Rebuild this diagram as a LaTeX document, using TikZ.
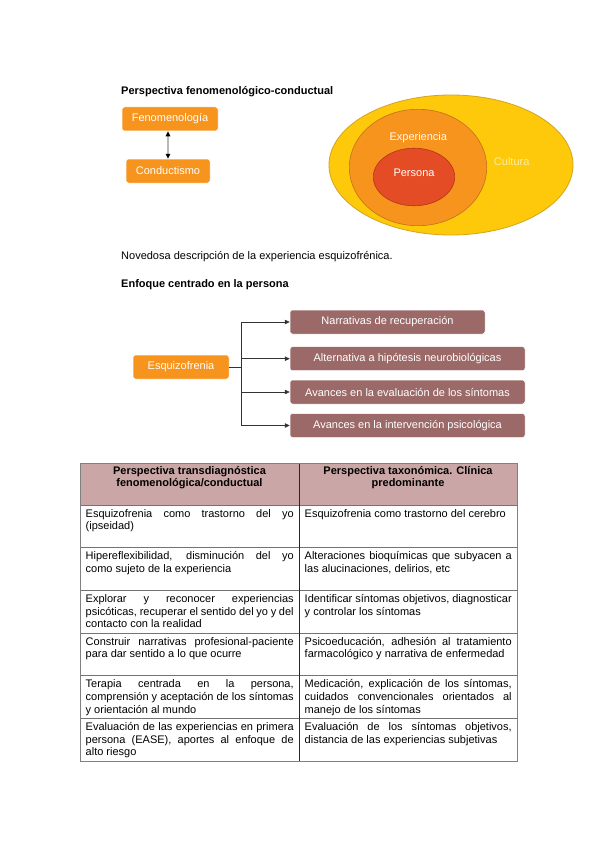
\documentclass[tikz,border=0pt]{standalone}
\usepackage{fontspec}
\setmainfont{Liberation Sans}
\usetikzlibrary{arrows.meta}
\definecolor{orangeC}{RGB}{247,148,30}
\definecolor{brownC}{RGB}{156,105,105}
\definecolor{hdrC}{RGB}{203,166,166}
\definecolor{yellowC}{RGB}{253,201,10}
\definecolor{yellowD}{RGB}{212,164,30}
\definecolor{midC}{RGB}{247,148,30}
\definecolor{midD}{RGB}{196,112,24}
\definecolor{redC}{RGB}{228,76,38}
\definecolor{redD}{RGB}{178,54,22}
\definecolor{cultC}{RGB}{255,236,160}
\newcommand{\JL}[1]{\makebox[208pt][s]{#1}}
\newcommand{\JR}[1]{\makebox[207pt][s]{#1}}
\begin{document}
\begin{tikzpicture}[x=1pt,y=-1pt,
  fnt/.style={font=\fontsize{11}{12.65}\selectfont},
  obox/.style={fnt, fill=orangeC, draw=white, line width=0.5pt, rounded corners=2.5pt, text=white, minimum height=24pt, inner sep=0pt},
  bbox/.style={fnt, fill=brownC, draw=white, line width=0.5pt, rounded corners=2.5pt, text=white, minimum height=24pt, inner sep=0pt},
  lbl/.style={fnt, anchor=west, inner sep=0pt},
  cell/.style={fnt, anchor=north west, inner sep=0pt, align=left},
  hcell/.style={fnt, font=\fontsize{11}{12.65}\selectfont\bfseries, anchor=north, inner sep=0pt, align=center},
  arr/.style={draw=black!80, line width=0.6pt, -{Triangle[length=5pt,width=4.5pt]}},
  tline/.style={draw=black!55, line width=0.6pt}
]
\useasboundingbox (0,0) rectangle (599,848);
\fill[white] (0,0) rectangle (599,848);

% ---- Section 1
\node[lbl, font=\fontsize{11}{12.65}\selectfont\bfseries] (t1) at (121,91.5) {Perspectiva fenomenológico-conductual};
\node[obox, minimum width=96pt] (fen) at (170,119) {Fenomenología};
\node[obox, minimum width=84pt] (con) at (168,171) {Conductismo};
\draw[draw=gray!55, line width=1.2pt, {Triangle[black,length=5pt,width=4.5pt]}-{Triangle[black,length=5pt,width=4.5pt]}] (con.north |- fen.south) -- (con.north);

% ellipses
\draw[fill=yellowC, draw=yellowD, line width=0.8pt] (451,165) ellipse [x radius=122, y radius=70];
\draw[fill=midC, draw=midD, line width=0.6pt] (418,167.5) ellipse [x radius=68.7, y radius=58.2];
\draw[fill=redC, draw=redD, line width=0.6pt] (414,177) ellipse [x radius=40.7, y radius=28.8];
\node[fnt, text=white!95!orange, inner sep=0pt] (exp) at (418.3,137.5) {Experiencia};
\node[fnt, text=white, inner sep=0pt] (per) at (414,172.5) {Persona};
\node[fnt, text=cultC, inner sep=0pt] (cul) at (511.7,161.5) {Cultura};

% ---- Section 2
\node[lbl] (nov) at (121,257) {Novedosa descripción de la experiencia esquizofrénica.};
\node[lbl, font=\fontsize{11}{12.65}\selectfont\bfseries] (t2) at (121,284.5) {Enfoque centrado en la persona};

\node[obox, minimum width=96pt] (esq) at (181,367) {Esquizofrenia};
\node[bbox, minimum width=195pt] (b1) at (387.5,322) {Narrativas de recuperación};
\node[bbox, minimum width=235pt] (b2) at (407.5,358.7) {Alternativa a hipótesis neurobiológicas};
\node[bbox, minimum width=235pt] (b3) at (407.5,392) {Avances en la evaluación de los síntomas};
\node[bbox, minimum width=235pt] (b4) at (407.5,425.5) {Avances en la intervención psicológica};
\coordinate (j) at (241,367);
\draw[draw=black!80, line width=0.6pt] (esq.east) -- (j);
\draw[draw=black!80, line width=0.6pt] (j |- b1.west) -- (j |- b4.west);
\draw[arr] (j |- b1.west) -- (b1.west);
\draw[arr] (j |- b2.west) -- (b2.west);
\draw[arr] (j |- b3.west) -- (b3.west);
\draw[arr] (j |- b4.west) -- (b4.west);

% ---- Table
\fill[hdrC] (80,463) rectangle (517,505);
\foreach \yy in {505,547.67,590.33,633,675.67,718.33}{
  \draw[tline] (80,\yy) -- (517,\yy);
}
\draw[draw=black!85, line width=0.6pt] (299,463) -- (299,761);
\draw[draw=black!50, line width=1pt] (80,463) rectangle (517,761);

\node[hcell] (h1) at (189.5,466) {Perspectiva transdiagnóstica\\fenomenológica/conductual};
\node[hcell] (h2) at (408,466) {Perspectiva taxonómica. Clínica\\predominante};

% left column
\node[cell] (l1) at (85.5,508) {\strut\JL{Esquizofrenia como trastorno del yo}\\(ipseidad)};
\node[cell] (l2) at (85.5,550.67) {\strut\JL{Hipereflexibilidad, disminución del yo}\\como sujeto de la experiencia};
\node[cell] (l3) at (85.5,593.33) {\strut\JL{Explorar y reconocer experiencias}\\\JL{psicóticas, recuperar el sentido del yo y del}\\contacto con la realidad};
\node[cell] (l4) at (85.5,636) {\strut\JL{Construir narrativas profesional-paciente}\\para dar sentido a lo que ocurre};
\node[cell] (l5) at (85.5,678.67) {\strut\JL{Terapia centrada en la persona,}\\\JL{comprensión y aceptación de los síntomas}\\y orientación al mundo};
\node[cell] (l6) at (85.5,721.33) {\strut\JL{Evaluación de las experiencias en primera}\\\JL{persona (EASE), aportes al enfoque de}\\alto riesgo};

% right column
\node[cell] (r1) at (304.5,508) {\strut Esquizofrenia como trastorno del cerebro};
\node[cell] (r2) at (304.5,550.67) {\strut\JR{Alteraciones bioquímicas que subyacen a}\\las alucinaciones, delirios, etc};
\node[cell] (r3) at (304.5,593.33) {\strut\JR{Identificar síntomas objetivos, diagnosticar}\\y controlar los síntomas};
\node[cell] (r4) at (304.5,636) {\strut\JR{Psicoeducación, adhesión al tratamiento}\\farmacológico y narrativa de enfermedad};
\node[cell] (r5) at (304.5,678.67) {\strut\JR{Medicación, explicación de los síntomas,}\\\JR{cuidados convencionales orientados al}\\manejo de los síntomas};
\node[cell] (r6) at (304.5,721.33) {\strut\JR{Evaluación de los síntomas objetivos,}\\distancia de las experiencias subjetivas};
\end{tikzpicture}
\end{document}
